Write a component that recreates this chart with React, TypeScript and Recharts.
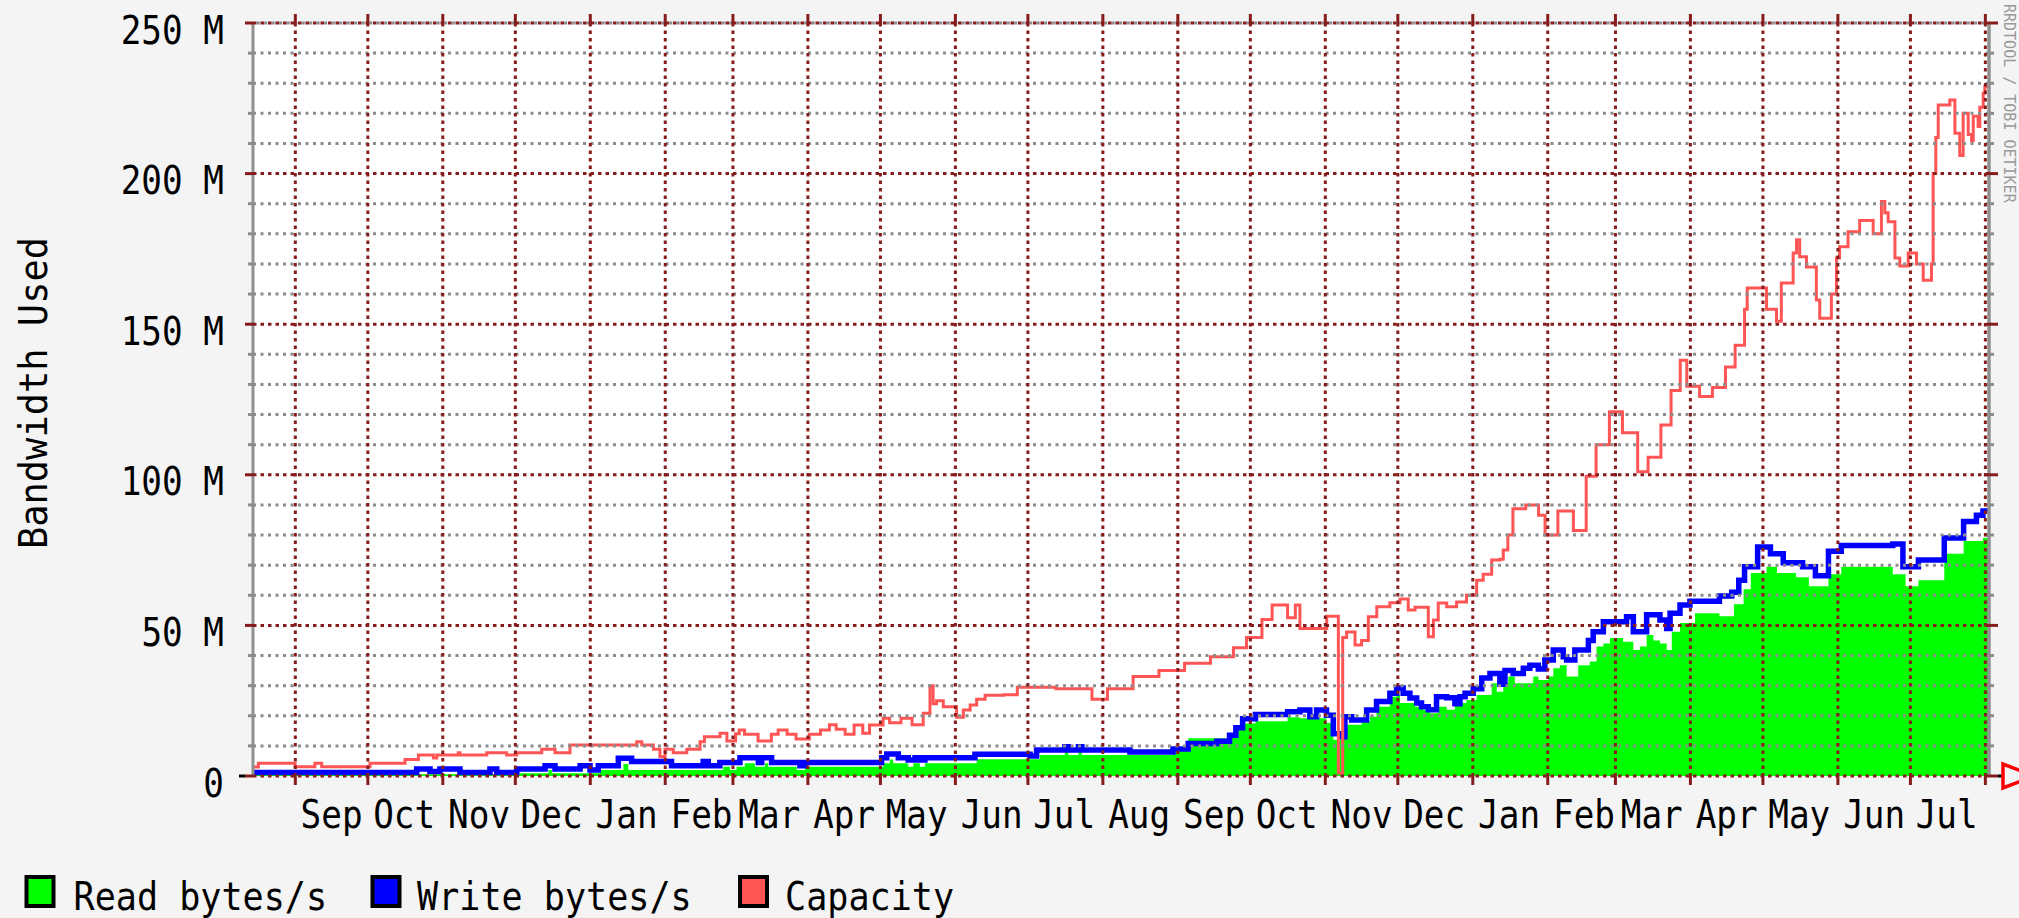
import React from 'react';
import { ComposedChart, Area, Line, XAxis, YAxis } from 'recharts';

// ---------------- data ----------------
// x values are days counted from 1 Aug of the first year
const monthStartDays = [31, 61, 92, 122, 153, 184, 212, 243, 273, 304, 334, 365, 396, 426, 457, 487, 518, 549, 577, 608, 638, 669, 699, 730];
const monthLabelDays = [46, 76, 107, 137, 168, 199, 227, 258, 288, 319, 349, 380, 411, 441, 472, 502, 533, 564, 592, 623, 653, 684, 714];
const monthLabels = ['Sep', 'Oct', 'Nov', 'Dec', 'Jan', 'Feb', 'Mar', 'Apr', 'May', 'Jun', 'Jul', 'Aug', 'Sep', 'Oct', 'Nov', 'Dec', 'Jan', 'Feb', 'Mar', 'Apr', 'May', 'Jun', 'Jul'];
const yTicks = [0, 10, 20, 30, 40, 50, 60, 70, 80, 90, 100, 110, 120, 130, 140, 150, 160, 170, 180, 190, 200, 210, 220, 230, 240, 250];

// Capacity (M)
const capDays = [13.5, 15.7, 30.9, 39.1, 41.9, 61.9, 76.4, 81.9, 88.1, 89.5, 98.4, 99.1, 110.2, 118.4, 122.6, 132.9, 138.4, 144.6, 172.2, 174.3, 179.1, 181.8, 183.9, 187.3, 192.9, 198.4, 200.2, 206.7, 209.5, 213.1, 214.6, 216.8, 222.4, 227.9, 230.7, 234.4, 238.1, 243.6, 248.2, 251.9, 254.7, 258.4, 262.1, 265.7, 268.5, 274.1, 276.8, 281.5, 286.1, 290.7, 293.5, 294.8, 296.2, 299, 304.5, 307.3, 310.1, 312.8, 316.3, 323.9, 329.6, 345.6, 360.5, 366.9, 377.5, 388.2, 398.8, 409.5, 419, 424.4, 430.8, 435, 441.4, 444.6, 446.5, 457.6, 462.4, 464.2, 465.8, 469.3, 472, 474.8, 478.3, 483.7, 487.9, 491.3, 494.1, 499.6, 501.7, 503.7, 507.2, 511.3, 515.4, 519.6, 522.3, 525.8, 529.2, 530.6, 532.5, 534.6, 539.9, 545.2, 547.9, 553.2, 559.6, 564.9, 569, 574.5, 579.9, 586.2, 590.5, 595.8, 600, 603.8, 606.5, 611.8, 617.1, 622.5, 626.5, 630.4, 631.5, 638.8, 639.5, 643.6, 645.6, 650.5, 651.9, 653.2, 656, 660.1, 661.5, 666.3, 668.4, 669.7, 673.2, 678, 683.6, 687, 688.4, 689.8, 692.6, 694.6, 698.1, 701.5, 704.3, 707.7, 708.4, 709.5, 710.5, 715.3, 717.4, 719.4, 720.8, 722.9, 724.3, 725, 727, 727.7, 729.1, 729.8, 731.5];
const capValues = [3.0, 4.2, 3.1, 4.2, 3.1, 4.2, 5.5, 7.0, 6.0, 7.0, 7.7, 7.0, 7.7, 7.0, 7.7, 8.9, 7.7, 10.3, 11.4, 10.3, 8.9, 6.4, 8.9, 7.7, 8.9, 11.4, 13, 14.2, 11.6, 14, 15.3, 13.9, 11.6, 13.9, 15.3, 13.9, 12.3, 13.9, 15.3, 17, 15.5, 13.9, 16.9, 14.2, 16.9, 19.2, 17.7, 19.2, 17, 20.8, 30, 24, 25, 23, 19.5, 21.9, 23.6, 25.5, 26.8, 27, 29.5, 29, 25.5, 29, 33, 35, 37.4, 39.6, 42.6, 46, 52, 56.8, 52.5, 56.8, 49, 53, 1, 46, 47.8, 43.5, 45, 52.9, 56.2, 57.5, 58.8, 55.1, 56, 46.2, 51.8, 57.4, 56.2, 57.8, 60, 65, 67, 71.7, 72, 75, 80, 88.7, 90, 86.6, 80, 88, 81.5, 99.5, 110, 120.9, 114, 101, 105.8, 116.5, 128, 138, 129.4, 126, 129, 135.8, 143, 155, 162, 162, 155, 151, 163.7, 173.6, 178, 172.4, 169, 158, 152, 160, 172, 175.7, 180.7, 184.4, 180, 190.7, 187, 184, 172, 169.3, 173.6, 170, 164.6, 170, 200, 212, 222.8, 224.4, 213.4, 206, 220, 213, 211, 219, 215.6, 222, 226.7, 228.8, 228.8];

// Write bytes/s (M)
const writeDays = [13.5, 81.2, 86.7, 90.8, 99.1, 111.5, 114.3, 122.6, 134.3, 138.4, 148.8, 152.9, 156.3, 164.6, 170.1, 186.6, 199.7, 201.8, 206.6, 214.9, 222.5, 223.9, 228, 239.7, 241.8, 273.5, 275.6, 280.4, 284.5, 287.3, 289.3, 291.4, 312.1, 334.9, 337.6, 349.3, 350.7, 354.9, 356.3, 376.2, 394, 400.3, 412.1, 417.4, 420, 422.8, 428.1, 441.4, 446.5, 450.6, 453.4, 457.5, 460.3, 463.1, 465.1, 467.9, 474.1, 478.2, 483.7, 486.5, 489.2, 492, 494.8, 496.8, 499.6, 503, 507.2, 510.6, 512.7, 514.8, 518.2, 521.7, 525.1, 529.2, 531.3, 534.7, 538.9, 541.6, 545.1, 547.8, 551.3, 555.4, 556.8, 560.2, 565.8, 567.8, 572, 581.6, 584.4, 589.9, 595.4, 598.2, 599.6, 603.7, 607.8, 620, 625.1, 628, 630.4, 635.8, 641.1, 646.4, 654.4, 659.7, 665.1, 670.4, 691.7, 695.9, 702.3, 713, 721, 726.3, 729, 731.5];
const writeValues = [1.2, 2.3, 1.5, 2.3, 1.2, 2.3, 1.2, 2.3, 3.4, 2.3, 3.4, 2.0, 3.4, 5.9, 4.8, 3.4, 4.8, 3.4, 4.5, 6.1, 4.5, 6.1, 4.5, 3.4, 4.5, 6.1, 7.3, 6.1, 5.3, 6.1, 5.3, 6.1, 7.2, 6.6, 8.6, 9.7, 8.6, 9.7, 8.6, 8, 9, 10.8, 11.5, 13.5, 16, 19, 20.4, 21.3, 21.9, 19.7, 21.9, 20.2, 14, 13, 19.7, 18.6, 21.9, 24.7, 27.5, 29.2, 27.5, 25.9, 24.2, 23, 22, 26.3, 26, 24, 26.3, 27.5, 29, 32.5, 34, 30.5, 35, 34, 35.8, 36.8, 35.5, 38.5, 41.8, 39.6, 38.5, 41.8, 45, 47.9, 51.2, 52.9, 47.9, 53.5, 51.8, 49, 54, 56.8, 58, 59.8, 61, 65, 69.5, 76, 73.8, 70.8, 69.5, 66.5, 74.6, 76.5, 77, 69.5, 71.7, 79, 84.5, 86.6, 88, 88];

// Read bytes/s (M)
const readDays = [13.5, 81, 123.8, 135.7, 137.1, 157, 166.7, 168.7, 194.2, 208, 210.8, 213.5, 216.9, 221.1, 225.2, 226.6, 238.4, 241.8, 274.2, 276.9, 278.3, 284.5, 286.6, 289.3, 291.4, 312.8, 338.9, 349.3, 350.7, 354.9, 356.3, 394, 400.3, 417.4, 420, 422.8, 428.1, 441.4, 446.5, 457.5, 460.3, 463.8, 472, 475.5, 478.2, 483.7, 486.5, 487.9, 494.1, 497.5, 500.3, 503.7, 507.2, 510.6, 515.4, 519.6, 525.8, 527.9, 530.6, 532.7, 535.4, 543, 545.1, 549.2, 551.3, 554, 556.8, 561.6, 566.4, 569.2, 572, 574.7, 580.2, 584.4, 587.1, 589.9, 592.7, 595.4, 598.2, 600.3, 603.7, 609.9, 620, 626, 630, 633, 639.5, 643.8, 651.7, 657, 665.1, 670.4, 691.7, 697, 702.3, 713, 721, 729, 731.5];
const readValues = [0.3, 0.6, 0.9, 2, 0.9, 2, 4, 2, 2, 3.1, 2, 3.1, 4.2, 3.1, 4.2, 3.1, 2, 3.1, 4.2, 5.5, 4.2, 3.1, 4.2, 3.1, 4.2, 5.6, 7, 9, 7, 9, 7, 9, 12.5, 14, 16, 17.4, 18.2, 19.5, 19.2, 17.6, 12, 17, 18, 19.7, 23, 26.3, 27, 24.2, 23, 21.9, 20.8, 23, 22, 24.2, 25.2, 26.9, 30.8, 28, 30.8, 33, 30.8, 33, 31.9, 33, 35.8, 36.8, 33, 36.8, 38, 43, 44, 45.8, 44.6, 41.8, 43, 46.8, 45, 44, 41.8, 47.9, 50.8, 54, 53, 57, 62, 67.4, 69.5, 67.4, 66, 63, 67, 69.5, 67, 63, 65, 73.8, 78, 79, 79];

const capData = capDays.map((d, i) => ({ d, v: capValues[i] }));
const writeData = writeDays.map((d, i) => ({ d, v: writeValues[i] }));
const readData = readDays.map((d, i) => ({ d, v: readValues[i] }));

// ---------------- layout / style ----------------
const W = 2019;
const H = 918;
const PLOT_L = 253;
const PLOT_R = 1989;
const PLOT_T = 23;
const PLOT_B = 776;
const FONT = '"DejaVu Sans Mono", "Liberation Mono", monospace';
const MAJOR = '#861c1c';
const MINOR = '#8c8c8c';
const AXIS = '#909090';
const X_DOMAIN: [number, number] = [13.5, 731.5];
const Y_DOMAIN: [number, number] = [0, 250];

function YTick(props: any) {
  const { y, payload } = props;
  const v = payload.value;
  const major = v % 50 === 0;
  const col = major ? MAJOR : MINOR;
  return (
    <g>
      {v === 250 && (
        <line x1={PLOT_L} x2={PLOT_R} y1={y} y2={y} stroke={MINOR} strokeWidth={3} strokeDasharray="3 4.5" strokeDashoffset={-3.7} />
      )}
      <line x1={major ? 245 : 248} x2={PLOT_L} y1={y} y2={y} stroke={col} strokeWidth={3} />
      <line x1={PLOT_L} x2={PLOT_R} y1={y} y2={y} stroke={col} strokeWidth={3} strokeDasharray={major ? '3.5 4' : '3 4.5'} />
      <line x1={PLOT_R} x2={major ? 1998 : 1994} y1={y} y2={y} stroke={col} strokeWidth={3} />
      {v === 0 && <line x1={239} x2={245} y1={y} y2={y} stroke="#000" strokeWidth={3} />}
      {v === 0 && <line x1={1998} x2={2002} y1={y} y2={y} stroke="#000" strokeWidth={3} />}
      {major && (
        <text
          transform={`translate(224 ${y + 20.5}) scale(0.88 1)`}
          textAnchor="end"
          fontFamily={FONT}
          fontSize={39}
          fill="#000"
        >
          {v === 0 ? '0' : `${v} M`}
        </text>
      )}
    </g>
  );
}

function XGridTick(props: any) {
  const { x } = props;
  return (
    <g>
      <line x1={x} x2={x} y1={14} y2={PLOT_T} stroke={MAJOR} strokeWidth={3} />
      <line x1={x} x2={x} y1={PLOT_T} y2={PLOT_B} stroke={MAJOR} strokeWidth={3} strokeDasharray="3.5 4" />
      <line x1={x} x2={x} y1={PLOT_B} y2={785} stroke={MAJOR} strokeWidth={3} />
    </g>
  );
}

function XLabelTick(props: any) {
  const { x, payload } = props;
  const idx = monthLabelDays.indexOf(payload.value);
  return (
    <text
      transform={`translate(${x} 828) scale(0.88 1)`}
      textAnchor="middle"
      fontFamily={FONT}
      fontSize={39}
      fill="#000"
    >
      {monthLabels[idx]}
    </text>
  );
}

const legendItems = [
  { label: 'Read bytes/s', color: '#00ff00', box: 24.5, text: 73.5 },
  { label: 'Write bytes/s', color: '#0000ff', box: 370.5, text: 417 },
  { label: 'Capacity', color: '#ff5555', box: 738, text: 785 },
];

export default function App() {
  return (
    <div style={{ position: 'absolute', left: 0, top: 0, width: W, height: H, background: '#f4f4f4', overflow: 'hidden' }}>
      <div
        style={{
          position: 'absolute',
          left: PLOT_L,
          top: PLOT_T,
          width: PLOT_R - PLOT_L,
          height: PLOT_B - PLOT_T,
          background: '#ffffff',
        }}
      />
      <div style={{ position: 'absolute', left: 0, top: 0 }}>
        <ComposedChart
          width={W}
          height={H}
          margin={{ top: PLOT_T, right: W - PLOT_R - 1, bottom: H - PLOT_B - 2, left: PLOT_L - 1 }}
        >
          <Area
            xAxisId="grid"
            yAxisId="left"
            data={readData}
            dataKey="v"
            type="stepAfter"
            fill="#00ff00"
            fillOpacity={1}
            stroke="none"
            isAnimationActive={false}
            dot={false}
            activeDot={false}
          />
          <Line
            xAxisId="grid"
            yAxisId="left"
            data={writeData}
            dataKey="v"
            type="stepAfter"
            stroke="#0000ff"
            strokeWidth={5.5}
            dot={false}
            activeDot={false}
            isAnimationActive={false}
          />
          <Line
            xAxisId="grid"
            yAxisId="left"
            data={capData}
            dataKey="v"
            type="stepAfter"
            stroke="#ff5555"
            strokeWidth={3}
            dot={false}
            activeDot={false}
            isAnimationActive={false}
          />
          <YAxis
            yAxisId="right"
            orientation="right"
            type="number"
            domain={Y_DOMAIN}
            allowDataOverflow
            width={1}
            axisLine={{ stroke: AXIS, strokeWidth: 3.5 }}
            tickLine={false}
            tick={false}
          />
          <YAxis
            yAxisId="left"
            type="number"
            domain={Y_DOMAIN}
            allowDataOverflow
            ticks={yTicks}
            interval={0}
            width={1}
            tickSize={0}
            tickMargin={0}
            axisLine={{ stroke: AXIS, strokeWidth: 3 }}
            tickLine={false}
            tick={(p: any) => <YTick {...p} />}
          />
          <XAxis
            xAxisId="grid"
            type="number"
            dataKey="d"
            domain={X_DOMAIN}
            allowDataOverflow
            ticks={monthStartDays}
            interval={0}
            height={1}
            tickSize={0}
            tickMargin={0}
            axisLine={false}
            tickLine={false}
            tick={(p: any) => <XGridTick {...p} />}
          />
          <XAxis
            xAxisId="lab"
            type="number"
            dataKey="d"
            domain={X_DOMAIN}
            allowDataOverflow
            ticks={monthLabelDays}
            interval={0}
            height={1}
            tickSize={0}
            tickMargin={0}
            axisLine={false}
            tickLine={false}
            tick={(p: any) => <XLabelTick {...p} />}
          />
        </ComposedChart>
      </div>
      <svg
        width={W}
        height={H}
        style={{ position: 'absolute', left: 0, top: 0, pointerEvents: 'none' }}
      >
        <text
          transform="translate(46.5 393) rotate(-90) scale(0.95 1)"
          textAnchor="middle"
          fontFamily={FONT}
          fontSize={39}
          fill="#000"
        >
          Bandwidth Used
        </text>
        <text
          transform="translate(2004 4) rotate(90)"
          fontFamily={FONT}
          fontSize={15}
          fill="#999999"
        >
          RRDTOOL / TOBI OETIKER
        </text>
        <polygon points="2003,764 2003,788 2034,776" fill="none" stroke="#ff0000" strokeWidth={3.5} />
        {legendItems.map((it) => (
          <g key={it.label}>
            <rect x={it.box + 2} y={877} width={27} height={29} fill={it.color} stroke="#000" strokeWidth={4} />
            <text
              transform={`translate(${it.text} 910) scale(0.9 1)`}
              fontFamily={FONT}
              fontSize={39}
              fill="#000"
            >
              {it.label}
            </text>
          </g>
        ))}
      </svg>
    </div>
  );
}
